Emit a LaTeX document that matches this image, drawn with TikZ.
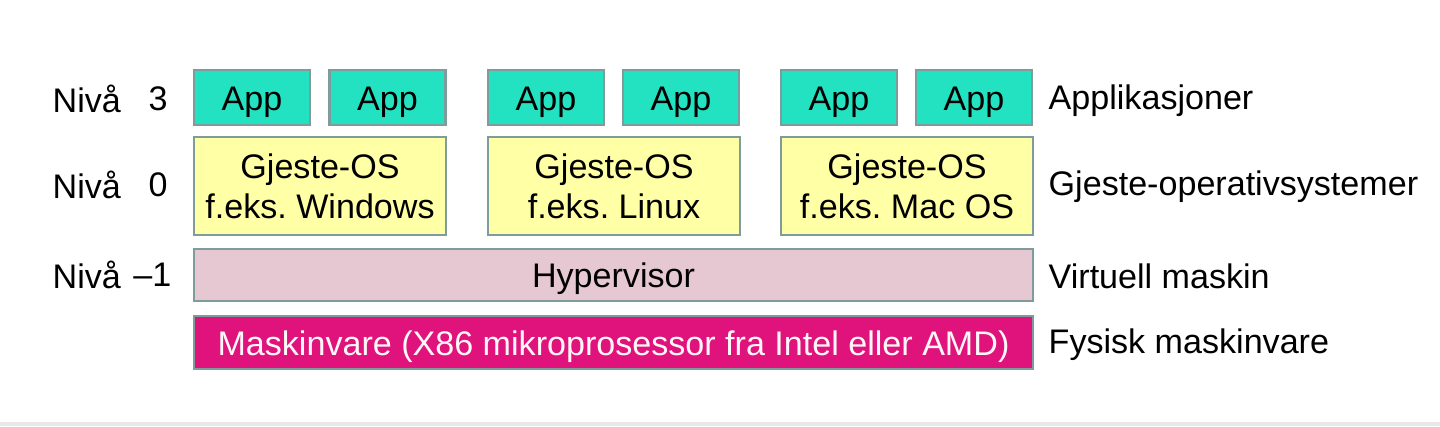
\documentclass[tikz,border=0pt]{standalone}
\usepackage{fontspec}
\setmainfont{Liberation Sans}
\usepackage{tikz}

\definecolor{appgreen}{HTML}{22E2C2}
\definecolor{osyellow}{HTML}{FFFFA6}
\definecolor{vmpink}{HTML}{E6C8D2}
\definecolor{hwmagenta}{HTML}{E0127C}
\definecolor{boxline}{HTML}{7F9C9C}

\tikzset{
  layer/.style={draw=boxline,line width=0.6pt,inner sep=0pt,
    font=\fontsize{9.7}{11.4}\selectfont},
  oneline/.style={layer,text height=9.3pt,text depth=2.1pt},
  app/.style={oneline,fill=appgreen,minimum width=1.16cm,minimum height=0.55cm},
  guest/.style={layer,fill=osyellow,align=center,minimum width=2.52cm,minimum height=0.98cm},
  wide/.style={oneline,minimum width=8.39cm,minimum height=0.52cm},
  lbl/.style={inner sep=0pt,font=\fontsize{9.7}{11.4}\selectfont}
}

\begin{document}
\frenchspacing
\begin{tikzpicture}
    \useasboundingbox (0,0) rectangle (14.4,4.26);
    \fill[gray!18] (0,0) rectangle (14.4,0.04);

    % apps
    \foreach \x [count=\i] in {2.52,3.875,5.46,6.81,8.39,9.74}
      \node[app] (app\i) at (\x,3.285) {App};

    % guest systems
    \node[guest] (win) at (3.20,2.40) {Gjeste-OS\\f.eks. Windows};
    \node[guest] (lin) at (6.14,2.40) {Gjeste-OS\\f.eks. Linux};
    \node[guest] (mac) at (9.07,2.40) {Gjeste-OS\\f.eks. Mac OS};

    \node[wide,fill=vmpink] (hyp) at (6.135,1.51) {Hypervisor};
    \node[wide,fill=hwmagenta,text=white!88!pink,minimum height=0.53cm] (hw) at (6.135,0.835)
      {Maskinvare (X86 mikroprosessor fra Intel eller AMD)};

    % levels
    \node[lbl,anchor=west] (n3) at (0.52,3.27) {Nivå};
    \node[lbl,anchor=west] (n0) at (0.52,2.41) {Nivå};
    \node[lbl,anchor=west] (nm) at (0.52,1.51) {Nivå};
    \node[lbl,anchor=west] (l3) at (1.48,3.27) {3};
    \node[lbl,anchor=west] (l0) at (1.48,2.41) {0};
    \node[lbl,anchor=east] (lm) at (1.72,1.51) {–1};

    % descriptions
    \node[lbl,anchor=west] (d3) at (10.48,3.25) {Applikasjoner};
    \node[lbl,anchor=west] (d0) at (10.48,2.39) {Gjeste-operativsystemer};
    \node[lbl,anchor=west] (dm) at (10.48,1.50) {Virtuell maskin};
    \node[lbl,anchor=west] (dh) at (10.48,0.81) {Fysisk maskinvare};
\end{tikzpicture}
\end{document}
